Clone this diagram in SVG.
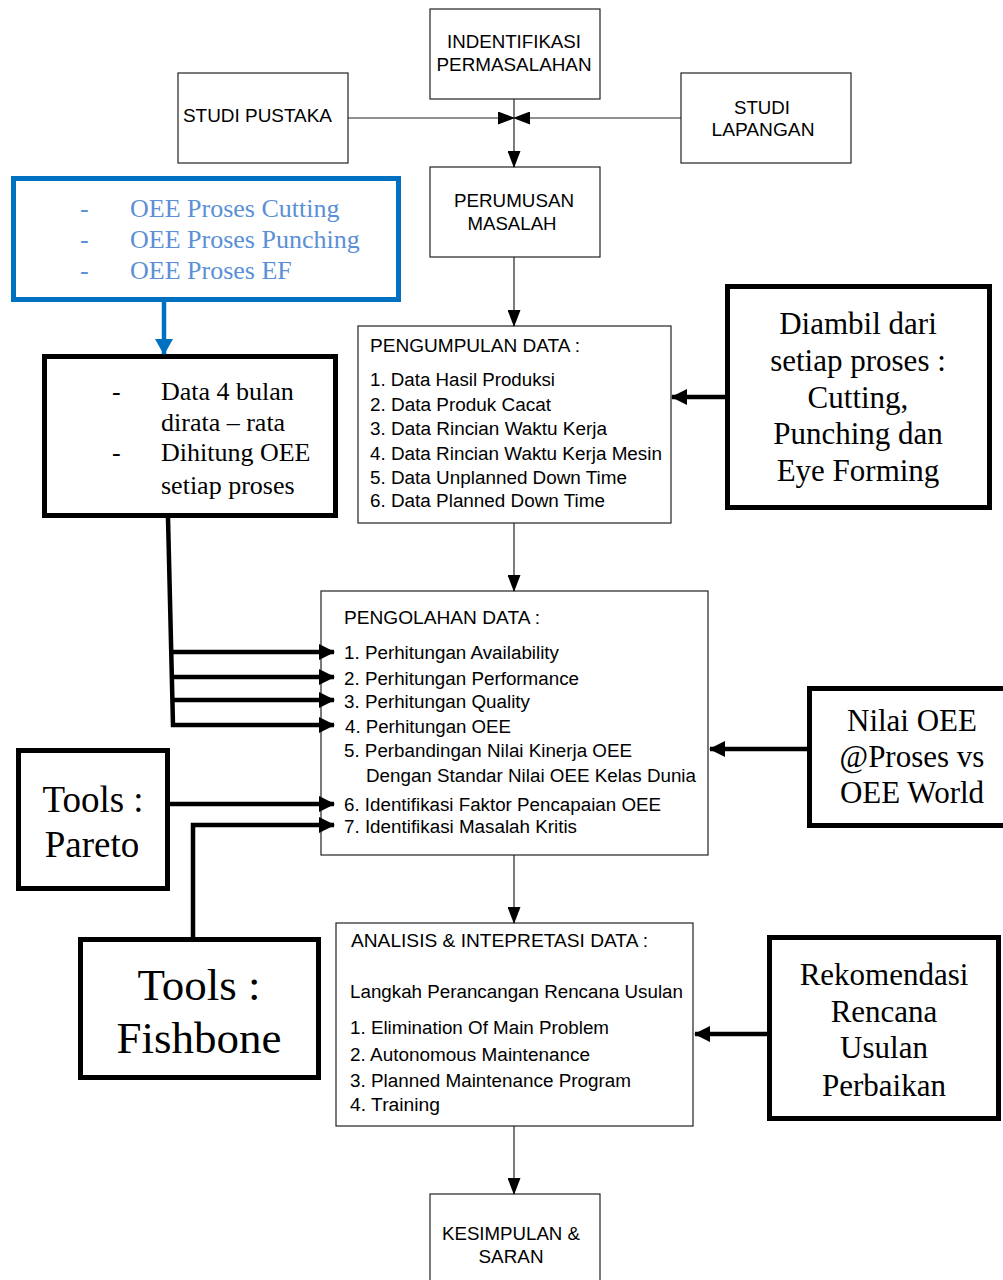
<svg xmlns="http://www.w3.org/2000/svg" width="1003" height="1280" viewBox="0 0 1003 1280">
<style>
.box{fill:#fff;stroke:#222;stroke-width:1.2}
.tbox{fill:#fff;stroke:#000;stroke-width:5}
.bbox{fill:#fff;stroke:#0070c0;stroke-width:5}
.a{font-family:"Liberation Sans",Arial,sans-serif;font-size:18px;fill:#000}
.t{font-family:"Liberation Serif","Times New Roman",serif;fill:#000}
.c{text-anchor:middle}
.thin{stroke:#222;stroke-width:1.2;fill:none}
.thick{stroke:#000;stroke-width:4.5;fill:none}
</style>
<defs>
<marker id="ah" markerUnits="userSpaceOnUse" markerWidth="17" markerHeight="13" refX="16" refY="6.5" orient="auto" viewBox="0 0 17 13">
<path d="M0,0 L17,6.5 L0,13 z" fill="#000"/>
</marker>
<marker id="ak" markerUnits="userSpaceOnUse" markerWidth="16" markerHeight="16" refX="15" refY="8" orient="auto" viewBox="0 0 16 16">
<path d="M0,0 L16,8 L0,16 z" fill="#000"/>
</marker>
<marker id="ab" markerUnits="userSpaceOnUse" markerWidth="16" markerHeight="18" refX="15" refY="9" orient="auto" viewBox="0 0 16 18">
<path d="M0,0 L16,9 L0,18 z" fill="#0070c0"/>
</marker>
</defs>
<rect width="1003" height="1280" fill="#fff"/>

<g id="identifikasi">
<rect class="box" x="430" y="9" width="170" height="90"/>
<text class="a c" x="514" y="48" textLength="134" lengthAdjust="spacingAndGlyphs">INDENTIFIKASI</text>
<text class="a c" x="514" y="71" textLength="155" lengthAdjust="spacingAndGlyphs">PERMASALAHAN</text>
</g>
<g id="studi-pustaka">
<rect class="box" x="178" y="73" width="170" height="90"/>
<text class="a" x="183" y="122" textLength="149" lengthAdjust="spacingAndGlyphs">STUDI PUSTAKA</text>
</g>
<g id="studi-lapangan">
<rect class="box" x="681" y="73" width="170" height="90"/>
<text class="a c" x="762" y="114" textLength="56" lengthAdjust="spacingAndGlyphs">STUDI</text>
<text class="a c" x="763" y="136" textLength="103" lengthAdjust="spacingAndGlyphs">LAPANGAN</text>
</g>
<g id="perumusan">
<rect class="box" x="430" y="167" width="170" height="90"/>
<text class="a c" x="514" y="207" textLength="120" lengthAdjust="spacingAndGlyphs">PERUMUSAN</text>
<text class="a c" x="512" y="230" textLength="89" lengthAdjust="spacingAndGlyphs">MASALAH</text>
</g>
<g id="oee-proses">
<rect class="bbox" x="13.5" y="178.5" width="385" height="121"/>
<g class="t" style="font-size:26px">
<text x="80" y="217" style="fill:#5b8fd6">-</text><text x="130" y="217" style="fill:#5b8fd6">OEE Proses Cutting</text>
<text x="80" y="248" style="fill:#5b8fd6">-</text><text x="130" y="248" style="fill:#5b8fd6">OEE Proses Punching</text>
<text x="80" y="279" style="fill:#5b8fd6">-</text><text x="130" y="279" style="fill:#5b8fd6">OEE Proses EF</text>
</g>
</g>
<g id="data-4-bulan">
<rect class="tbox" x="44.5" y="356.5" width="291" height="159"/>
<g class="t" style="font-size:26px">
<text x="112" y="400">-</text><text x="161" y="400">Data 4 bulan</text>
<text x="161" y="431">dirata – rata</text>
<text x="112" y="461">-</text><text x="161" y="461">Dihitung OEE</text>
<text x="161" y="494">setiap proses</text>
</g>
</g>
<g id="pengumpulan">
<rect class="box" x="358" y="326" width="313" height="197"/>
<text class="a" x="370" y="352" textLength="210" lengthAdjust="spacingAndGlyphs">PENGUMPULAN DATA :</text>
<text class="a" x="370" y="386" textLength="185" lengthAdjust="spacingAndGlyphs">1. Data Hasil Produksi</text>
<text class="a" x="370" y="411" textLength="181" lengthAdjust="spacingAndGlyphs">2. Data Produk Cacat</text>
<text class="a" x="370" y="435" textLength="237" lengthAdjust="spacingAndGlyphs">3. Data Rincian Waktu Kerja</text>
<text class="a" x="370" y="460" textLength="292" lengthAdjust="spacingAndGlyphs">4. Data Rincian Waktu Kerja Mesin</text>
<text class="a" x="370" y="484" textLength="257" lengthAdjust="spacingAndGlyphs">5. Data Unplanned Down Time</text>
<text class="a" x="370" y="507" textLength="235" lengthAdjust="spacingAndGlyphs">6. Data Planned Down Time</text>
</g>
<g id="diambil">
<rect class="tbox" x="727.5" y="286.5" width="262" height="221"/>
<g class="t c" style="font-size:31px">
<text x="858" y="334">Diambil dari</text>
<text x="858" y="371">setiap proses :</text>
<text x="858" y="408">Cutting,</text>
<text x="858" y="444">Punching dan</text>
<text x="858" y="481">Eye Forming</text>
</g>
</g>
<g id="pengolahan">
<rect class="box" x="321" y="591" width="387" height="264"/>
<text class="a" x="344" y="624" textLength="196" lengthAdjust="spacingAndGlyphs">PENGOLAHAN DATA :</text>
<text class="a" x="344" y="659" textLength="215" lengthAdjust="spacingAndGlyphs">1. Perhitungan Availability</text>
<text class="a" x="344" y="685" textLength="235" lengthAdjust="spacingAndGlyphs">2. Perhitungan Performance</text>
<text class="a" x="344" y="708" textLength="186" lengthAdjust="spacingAndGlyphs">3. Perhitungan Quality</text>
<text class="a" x="345" y="733" textLength="166" lengthAdjust="spacingAndGlyphs">4. Perhitungan OEE</text>
<text class="a" x="344" y="757" textLength="288" lengthAdjust="spacingAndGlyphs">5. Perbandingan Nilai Kinerja OEE</text>
<text class="a" x="366" y="782" textLength="330" lengthAdjust="spacingAndGlyphs">Dengan Standar Nilai OEE Kelas Dunia</text>
<text class="a" x="344" y="811" textLength="317" lengthAdjust="spacingAndGlyphs">6. Identifikasi Faktor Pencapaian OEE</text>
<text class="a" x="344" y="833" textLength="233" lengthAdjust="spacingAndGlyphs">7. Identifikasi Masalah Kritis</text>
</g>
<g id="nilai-oee">
<rect class="tbox" x="809.5" y="688.5" width="210" height="137"/>
<g class="t c" style="font-size:31px">
<text x="912" y="731">Nilai OEE</text>
<text x="912" y="767">@Proses vs</text>
<text x="912" y="803">OEE World</text>
</g>
</g>
<g id="tools-pareto">
<rect class="tbox" x="18.5" y="750.5" width="149" height="138"/>
<g class="t c" style="font-size:37px">
<text x="93" y="812">Tools :</text>
<text x="92" y="857">Pareto</text>
</g>
</g>
<g id="tools-fishbone">
<rect class="tbox" x="80.5" y="939.5" width="238" height="138"/>
<g class="t c" style="font-size:45px">
<text x="199" y="1000">Tools :</text>
<text x="199" y="1053">Fishbone</text>
</g>
</g>
<g id="analisis">
<rect class="box" x="336" y="923" width="357" height="203"/>
<text class="a" x="351" y="947" textLength="297" lengthAdjust="spacingAndGlyphs">ANALISIS &amp; INTEPRETASI DATA :</text>
<text class="a" x="350" y="998" textLength="333" lengthAdjust="spacingAndGlyphs">Langkah Perancangan Rencana Usulan</text>
<text class="a" x="350" y="1034" textLength="259" lengthAdjust="spacingAndGlyphs">1. Elimination Of Main Problem</text>
<text class="a" x="350" y="1061" textLength="240" lengthAdjust="spacingAndGlyphs">2. Autonomous Maintenance</text>
<text class="a" x="350" y="1087" textLength="281" lengthAdjust="spacingAndGlyphs">3. Planned Maintenance Program</text>
<text class="a" x="350" y="1111" textLength="90" lengthAdjust="spacingAndGlyphs">4. Training</text>
</g>
<g id="rekomendasi">
<rect class="tbox" x="769.5" y="937.5" width="229" height="181"/>
<g class="t c" style="font-size:31px">
<text x="884" y="985">Rekomendasi</text>
<text x="884" y="1022">Rencana</text>
<text x="884" y="1058">Usulan</text>
<text x="884" y="1096">Perbaikan</text>
</g>
</g>
<g id="kesimpulan">
<rect class="box" x="430" y="1194" width="170" height="95"/>
<text class="a c" x="511" y="1240" textLength="138" lengthAdjust="spacingAndGlyphs">KESIMPULAN &amp;</text>
<text class="a c" x="511" y="1263" textLength="65" lengthAdjust="spacingAndGlyphs">SARAN</text>
</g>

<g id="connectors">
<line class="thin" x1="348" y1="118" x2="514" y2="118" marker-end="url(#ah)"/>
<line class="thin" x1="681" y1="118" x2="514" y2="118" marker-end="url(#ah)"/>
<line class="thin" x1="514" y1="99" x2="514" y2="167" marker-end="url(#ah)"/>
<line class="thin" x1="514" y1="257" x2="514" y2="326" marker-end="url(#ah)"/>
<line class="thin" x1="514" y1="523" x2="514" y2="591" marker-end="url(#ah)"/>
<line class="thin" x1="514" y1="855" x2="514" y2="923" marker-end="url(#ah)"/>
<line class="thin" x1="514" y1="1126" x2="514" y2="1194" marker-end="url(#ah)"/>
<line x1="164" y1="302" x2="164" y2="354" stroke="#0070c0" stroke-width="4.5" marker-end="url(#ab)"/>
<path class="thick" d="M168,518 L173,725 L334,725" marker-end="url(#ak)"/>
<line class="thick" x1="173" y1="652" x2="334" y2="652" marker-end="url(#ak)"/>
<line class="thick" x1="173" y1="677" x2="334" y2="677" marker-end="url(#ak)"/>
<line class="thick" x1="173" y1="700" x2="334" y2="700" marker-end="url(#ak)"/>
<line class="thick" x1="170" y1="804" x2="334" y2="804" marker-end="url(#ak)"/>
<path class="thick" d="M193,937 L193,825 L334,825" marker-end="url(#ak)"/>
<line class="thick" x1="725" y1="397" x2="672" y2="397" marker-end="url(#ak)"/>
<line class="thick" x1="807" y1="749" x2="710" y2="749" marker-end="url(#ak)"/>
<line class="thick" x1="767" y1="1034" x2="695" y2="1034" marker-end="url(#ak)"/>
</g>
</svg>
